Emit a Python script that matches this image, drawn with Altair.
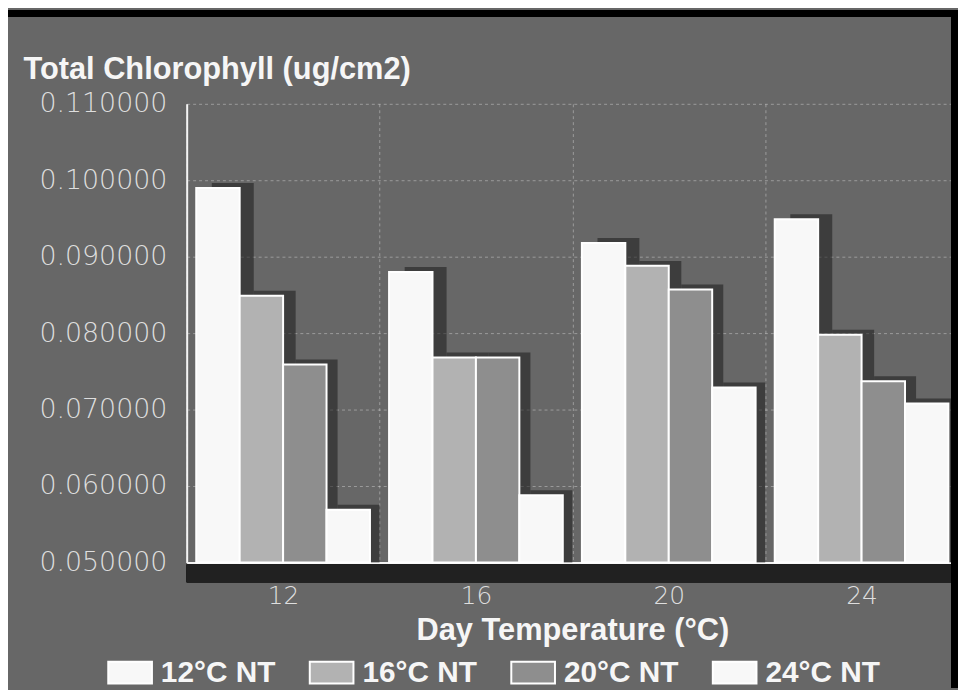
import altair as alt
import pandas as pd

# Day temperatures (x categories) and night-temperature series
day_temps = ["12", "16", "20", "24"]
series = ["12°C NT", "16°C NT", "20°C NT", "24°C NT"]
nt12 = [0.0990, 0.0880, 0.0918, 0.0949]
nt16 = [0.0849, 0.0768, 0.0888, 0.0798]
nt20 = [0.0759, 0.0768, 0.0857, 0.0737]
nt24 = [0.0569, 0.0588, 0.0729, 0.0708]
y_ticks = [0.05, 0.06, 0.07, 0.08, 0.09, 0.10, 0.11]
bar_colors = ["#f8f8f8", "#b2b2b2", "#8e8e8e", "#f8f8f8"]

rows = []
for name, vals in zip(series, [nt12, nt16, nt20, nt24]):
    for d, v in zip(day_temps, vals):
        rows.append({"day": d, "night": name, "value": v})
df = pd.DataFrame(rows)

W, H = 777, 462
BG = "#676767"

x_enc = alt.X("day:N", sort=day_temps,
              scale=alt.Scale(paddingInner=0, paddingOuter=0),
              axis=alt.Axis(title="Day Temperature (°C)", labelAngle=0,
                            ticks=False, domain=True, domainColor="#f4f4f4", domainWidth=2,
                            grid=True, tickBand="extent", gridColor="#ffffff",
                            gridOpacity=0.35, gridDash=[3, 3],
                            labelFont="DejaVu Sans", labelFontWeight=300,
                            labelFontSize=25, labelColor="#dedede", labelPadding=21,
                            titleFont="Liberation Sans", titleFontWeight="bold",
                            titleFontSize=31, titleColor="#f6f6f6", titlePadding=8))
y_enc = alt.Y("value:Q",
              scale=alt.Scale(domain=[0.05, 0.11], nice=False, zero=False),
              axis=alt.Axis(values=y_ticks, format=".6f", title="Total Chlorophyll (ug/cm2)",
                            ticks=False, domain=True, domainColor="#f4f4f4", domainWidth=2,
                            grid=True, gridColor="#ffffff", gridOpacity=0.35, gridDash=[3, 3],
                            labelFont="DejaVu Sans", labelFontWeight=300,
                            labelFontSize=27, labelColor="#dedede", labelPadding=20,
                            labelBaseline="middle",
                            titleAngle=0, titleAlign="left", titleBaseline="alphabetic",
                            titleX=-165, titleY=-25,
                            titleFont="Liberation Sans", titleFontWeight="bold",
                            titleFontSize=31, titleColor="#f6f6f6"))

color_enc = alt.Color("night:N", sort=series,
                      scale=alt.Scale(domain=series, range=bar_colors),
                      legend=alt.Legend(title=None, orient="none", direction="horizontal",
                                        columns=4, legendX=-80, legendY=550,
                                        symbolType="M-1,-0.5H1V0.5H-1Z", symbolSize=1936,
                                        symbolStrokeColor="#ffffff", symbolStrokeWidth=2,
                                        symbolOpacity=1,
                                        labelFont="Liberation Sans", labelFontWeight="bold",
                                        labelFontSize=30, labelColor="#f6f6f6",
                                        labelOffset=8, columnPadding=30, labelLimit=300))

# drop shadow behind each bar (shifted right by placing all outer padding on the left)
shadow = alt.Chart(df).mark_bar(color="#1c1c1c", opacity=0.55, yOffset=-5).encode(
    x=x_enc,
    xOffset=alt.XOffset("night:N", sort=series,
                        scale=alt.Scale(paddingInner=0, paddingOuter=0.3, align=1)),
    y=y_enc, y2=alt.datum(0.05)
)

bars = alt.Chart(df).mark_bar(stroke="#ffffff", strokeWidth=2, opacity=1).encode(
    x=x_enc,
    xOffset=alt.XOffset("night:N", sort=series,
                        scale=alt.Scale(paddingInner=0, paddingOuter=0.22)),
    y=y_enc, y2=alt.datum(0.05), color=color_enc
)

band = alt.Chart(df).mark_rule(color="#222222", strokeWidth=18, opacity=0.45).encode(
    x=alt.value(0), x2=alt.value(W), y=alt.value(H + 11)
)
top_edge = alt.Chart(df).mark_rule(color="#000000", strokeWidth=6).encode(
    x=alt.value(-180), x2=alt.value(W), y=alt.value(-91)
)
right_edge = alt.Chart(df).mark_rule(color="#000000", strokeWidth=8, opacity=0.55).encode(
    x=alt.value(W - 3), y=alt.value(-94), y2=alt.value(H + 126)
)

chart = alt.layer(shadow, bars, band, top_edge, right_edge).resolve_scale(
    xOffset="independent"
).properties(
    width=W, height=H,
    autosize=alt.AutoSizeParams(type="none"),
    padding={"left": 180, "top": 94, "right": 0, "bottom": 126},
    background=BG,
).configure_view(stroke=None, fill=BG)

chart.save("out.html", embed_options={"renderer": "svg", "actions": False})
